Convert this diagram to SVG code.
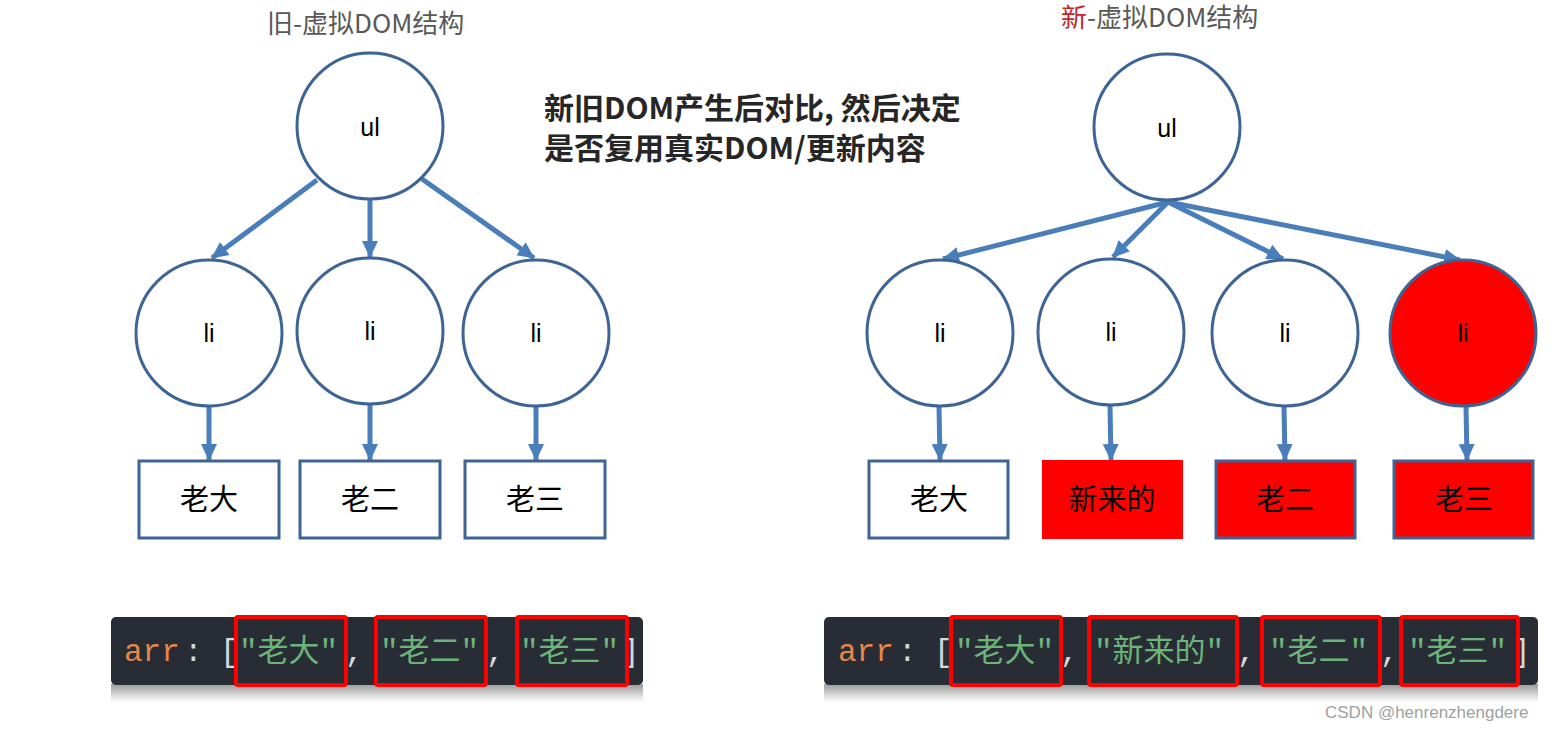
<svg xmlns="http://www.w3.org/2000/svg" width="1561" height="732" viewBox="0 0 1561 732">
<style>
.circ{fill:#fff;stroke:#3d6494;stroke-width:3}
.box{fill:#fff;stroke:#3d6494;stroke-width:3}
.red{fill:#ff0000}
.lbl{font-family:"Liberation Sans","Noto Sans CJK SC",sans-serif;font-size:25px;fill:#000;text-anchor:middle}
.cn{font-family:"Noto Sans CJK SC",sans-serif;font-size:29px;fill:#000;text-anchor:middle}
.title{font-family:"Noto Sans CJK SC",sans-serif;font-size:26px;fill:#595959}
.note{font-family:"Noto Sans CJK SC",sans-serif;font-size:30px;font-weight:bold;fill:#262626}
.code{fill:#282c34}
.mono{font-family:"Liberation Mono","DejaVu Sans Mono","Noto Sans CJK SC",monospace;font-size:31px}
.key{fill:#e5874a}
.pun{fill:#d5d8de}
.str{fill:#6cb47a;font-family:"Liberation Mono","Noto Sans CJK SC",monospace}
.hl{fill:none;stroke:#ff0000;stroke-width:4}
.edge{stroke:#4a7ebb;stroke-width:5;fill:none}
</style>
<defs>
<marker id="ah" markerUnits="userSpaceOnUse" markerWidth="18" markerHeight="18" viewBox="0 0 18 18" refX="16" refY="9" orient="auto">
<path d="M0,1 L17,9 L0,17 Z" fill="#4a7ebb"/>
</marker>
<linearGradient id="sh" x1="0" y1="0" x2="0" y2="1">
<stop offset="0" stop-color="#9a9a9a"/>
<stop offset="1" stop-color="#ffffff"/>
</linearGradient>
</defs>

<text class="title" x="267" y="33">旧-虚拟DOM结构</text>
<text class="title" x="1061" y="27"><tspan fill="#c0282d">新</tspan>-虚拟DOM结构</text>

<text class="note" x="544" y="119">新旧DOM产生后对比, 然后决定</text>
<text class="note" x="544" y="159">是否复用真实DOM/更新内容</text>

<g id="connectors">
<line class="edge" x1="317" y1="180" x2="212" y2="258" marker-end="url(#ah)"/>
<line class="edge" x1="370" y1="200" x2="370" y2="257" marker-end="url(#ah)"/>
<line class="edge" x1="422" y1="179" x2="534" y2="258" marker-end="url(#ah)"/>
<line class="edge" x1="209" y1="406" x2="209" y2="460" marker-end="url(#ah)"/>
<line class="edge" x1="370" y1="405" x2="370" y2="460" marker-end="url(#ah)"/>
<line class="edge" x1="536" y1="406" x2="536" y2="460" marker-end="url(#ah)"/>

<line class="edge" x1="1168" y1="202" x2="943" y2="259" marker-end="url(#ah)"/>
<line class="edge" x1="1168" y1="202" x2="1113" y2="257" marker-end="url(#ah)"/>
<line class="edge" x1="1168" y1="202" x2="1283" y2="259" marker-end="url(#ah)"/>
<line class="edge" x1="1168" y1="202" x2="1460" y2="260" marker-end="url(#ah)"/>
<line class="edge" x1="939" y1="406" x2="940" y2="460" marker-end="url(#ah)"/>
<line class="edge" x1="1110" y1="406" x2="1111" y2="460" marker-end="url(#ah)"/>
<line class="edge" x1="1284" y1="406" x2="1285" y2="460" marker-end="url(#ah)"/>
<line class="edge" x1="1466" y1="406" x2="1467" y2="460" marker-end="url(#ah)"/>
</g>

<g id="old-ul"><circle class="circ" cx="370" cy="126" r="73"/><text class="lbl" x="370" y="136">ul</text></g>
<g id="old-li1"><circle class="circ" cx="209" cy="333" r="73"/><text class="lbl" x="209" y="342">li</text></g>
<g id="old-li2"><circle class="circ" cx="370" cy="331" r="73"/><text class="lbl" x="370" y="340">li</text></g>
<g id="old-li3"><circle class="circ" cx="536" cy="333" r="73"/><text class="lbl" x="536" y="342">li</text></g>
<g id="old-b1"><rect class="box" x="139" y="461" width="140" height="77"/><text class="cn" x="209" y="510">老大</text></g>
<g id="old-b2"><rect class="box" x="300" y="461" width="140" height="77"/><text class="cn" x="370" y="510">老二</text></g>
<g id="old-b3"><rect class="box" x="465" y="461" width="140" height="77"/><text class="cn" x="535" y="510">老三</text></g>

<g id="new-ul"><circle class="circ" cx="1167" cy="127" r="73"/><text class="lbl" x="1167" y="137">ul</text></g>
<g id="new-li1"><circle class="circ" cx="940" cy="333" r="73"/><text class="lbl" x="940" y="342">li</text></g>
<g id="new-li2"><circle class="circ" cx="1111" cy="332" r="73"/><text class="lbl" x="1111" y="341">li</text></g>
<g id="new-li3"><circle class="circ" cx="1285" cy="333" r="73"/><text class="lbl" x="1285" y="342">li</text></g>
<g id="new-li4"><circle class="circ" cx="1463" cy="333" r="73" style="fill:#ff0000"/><text class="lbl" x="1463" y="342">li</text></g>
<g id="new-b1"><rect class="box" x="869" y="461" width="139" height="77"/><text class="cn" x="939" y="510">老大</text></g>
<g id="new-b2"><rect class="red" x="1042" y="460" width="141" height="79"/><text class="cn" x="1112" y="510">新来的</text></g>
<g id="new-b3"><rect class="box" x="1216" y="461" width="139" height="77" style="fill:#ff0000"/><text class="cn" x="1285" y="510">老二</text></g>
<g id="new-b4"><rect class="box" x="1394" y="461" width="139" height="77" style="fill:#ff0000"/><text class="cn" x="1464" y="510">老三</text></g>

<g id="old-code">
<rect x="111" y="684" width="532" height="18" fill="url(#sh)"/>
<rect class="code" x="111" y="617" width="532" height="68" rx="5"/>
<g class="mono">
<text class="key" x="124" y="661">arr</text>
<text class="pun" x="184" y="661">:</text>
<text class="pun" x="220" y="661">[</text>
<text class="str" x="239" y="661">"老大"</text>
<text class="pun" x="345" y="661">,</text>
<text class="str" x="380" y="661">"老二"</text>
<text class="pun" x="486" y="661">,</text>
<text class="str" x="520" y="661">"老三"</text>
<text class="pun" x="621" y="661">]</text>
</g>
<rect class="hl" x="236" y="617" width="110" height="68" rx="2"/>
<rect class="hl" x="376" y="617" width="110" height="68" rx="2"/>
<rect class="hl" x="517" y="617" width="110" height="68" rx="2"/>
</g>

<g id="new-code">
<rect x="824" y="684" width="714" height="18" fill="url(#sh)"/>
<rect class="code" x="824" y="617" width="714" height="68" rx="5"/>
<g class="mono">
<text class="key" x="838" y="661">arr</text>
<text class="pun" x="898" y="661">:</text>
<text class="pun" x="934" y="661">[</text>
<text class="str" x="955" y="661">"老大"</text>
<text class="pun" x="1060" y="661">,</text>
<text class="str" x="1094" y="661">"新来的"</text>
<text class="pun" x="1237" y="661">,</text>
<text class="str" x="1269" y="661">"老二"</text>
<text class="pun" x="1380" y="661">,</text>
<text class="str" x="1408" y="661">"老三"</text>
<text class="pun" x="1512" y="661">]</text>
</g>
<rect class="hl" x="951" y="617" width="110" height="68" rx="2"/>
<rect class="hl" x="1089" y="617" width="148" height="68" rx="2"/>
<rect class="hl" x="1262" y="617" width="118" height="68" rx="2"/>
<rect class="hl" x="1401" y="617" width="117" height="68" rx="2"/>
</g>

<text x="1325" y="718" font-family="Liberation Sans,sans-serif" font-size="17" fill="#a0a0a0">CSDN @henrenzhengdere</text>
</svg>
